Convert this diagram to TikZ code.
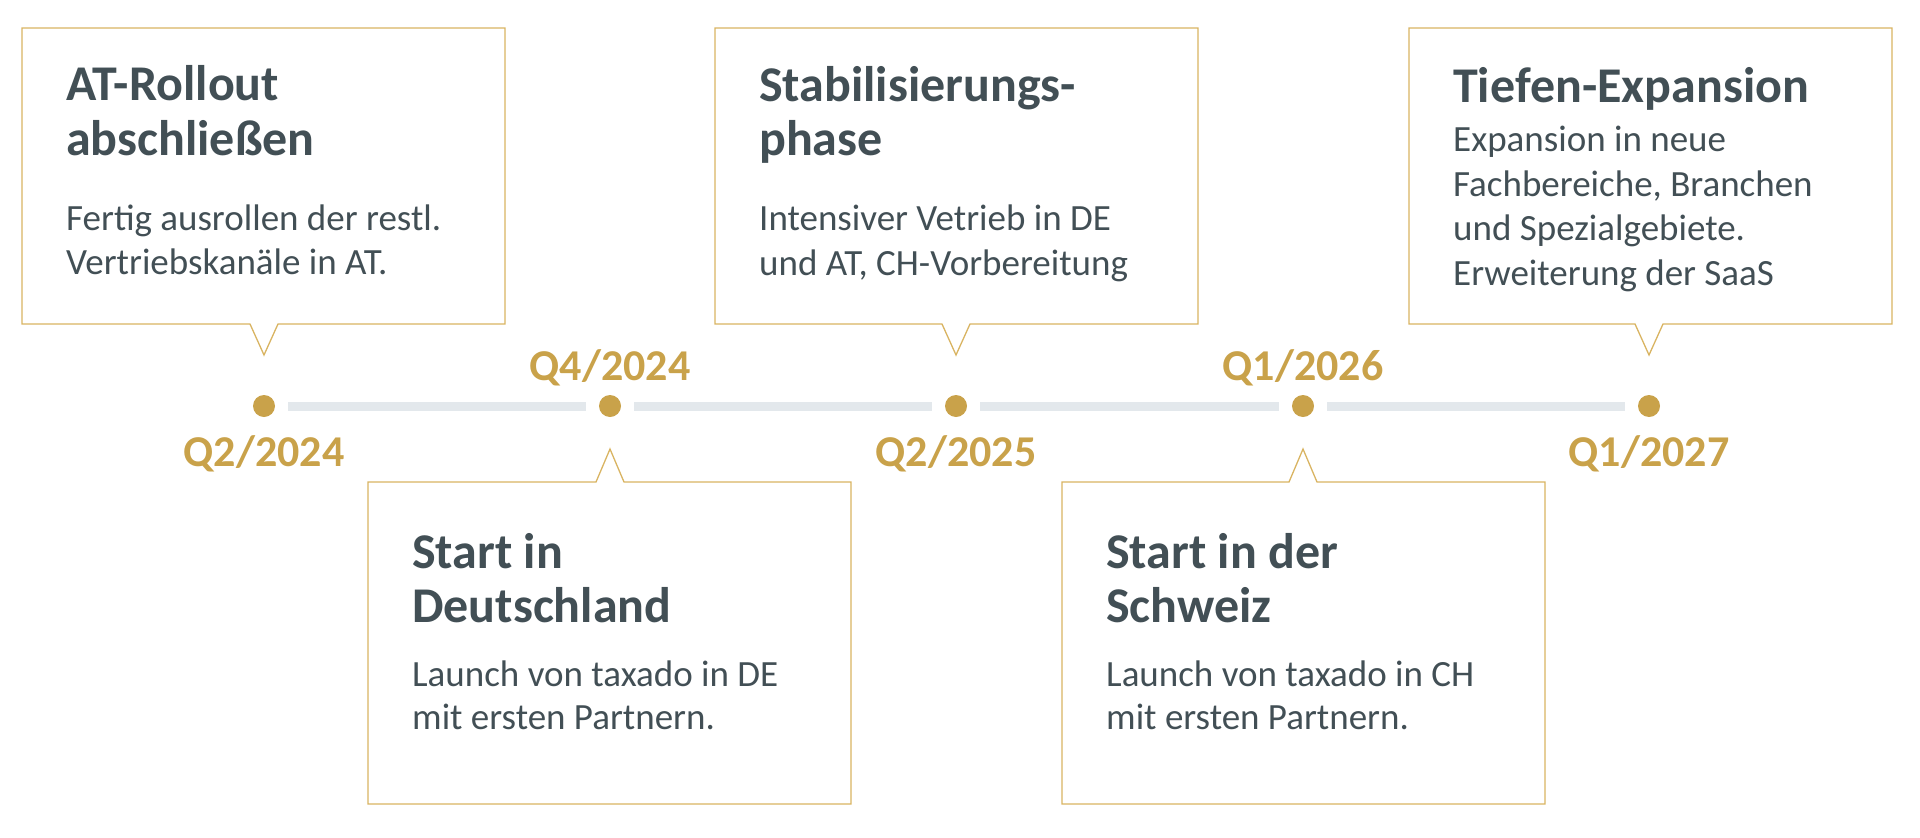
\documentclass[tikz,border=0pt]{standalone}
\usepackage{fontspec}
\setmainfont{Carlito}
\definecolor{ink}{HTML}{424F55}
\definecolor{gold}{HTML}{C9A24A}
\definecolor{frame}{HTML}{D9B462}
\definecolor{track}{HTML}{E3E8EC}
\begin{document}
\begin{tikzpicture}[x=1pt,y=-1pt,
  box/.style={draw=frame,line width=1.3pt,fill=white,line join=miter},
  dot/.style={circle,fill=gold,inner sep=0,minimum size=22pt},
  track/.style={draw=track,line width=9pt},
  qlab/.style={text=gold,font=\fontsize{44}{44}\selectfont\bfseries,inner sep=0,anchor=base},
  ttl/.style={text=ink,font=\fontsize{50}{50}\selectfont\bfseries,inner sep=0,anchor=base west},
  bdy/.style={text=ink,font=\fontsize{37}{37}\selectfont,inner sep=0,anchor=base west}]
\useasboundingbox (0,0) rectangle (1920,838);
% dots
\node[dot] (d1) at (264,406) {};
\node[dot] (d2) at (610,406) {};
\node[dot] (d3) at (956,406) {};
\node[dot] (d4) at (1303,406) {};
\node[dot] (d5) at (1649,406) {};
\draw[track] ([xshift=13pt]d1.east) -- ([xshift=-13pt]d2.west);
\draw[track] ([xshift=13pt]d2.east) -- ([xshift=-13pt]d3.west);
\draw[track] ([xshift=13pt]d3.east) -- ([xshift=-13pt]d4.west);
\draw[track] ([xshift=13pt]d4.east) -- ([xshift=-13pt]d5.west);
% labels
\node[qlab] (q1) at (264,466) {Q2/2024};
\node[qlab] (q2) at (610,380) {Q4/2024};
\node[qlab] (q3) at (956,466) {Q2/2025};
\node[qlab] (q4) at (1303,380) {Q1/2026};
\node[qlab] (q5) at (1649,466) {Q1/2027};
% upper boxes
\foreach \c/\l in {264/22,956/715,1649/1409}{
  \draw[box] (\l,28) -- (\l+483,28) -- (\l+483,324) -- (\c+14,324) -- (\c,355) -- (\c-14,324) -- (\l,324) -- cycle;}
% lower boxes
\foreach \c/\l in {610/368,1303/1062}{
  \draw[box] (\l,482) -- (\c-14,482) -- (\c,449) -- (\c+14,482) -- (\l+483,482) -- (\l+483,804) -- (\l,804) -- cycle;}
% box 1
\node[ttl] (t1a) at (66,100) {AT-Rollout};
\node[ttl] (t1b) at (66,155) {abschließen};
\node[bdy] (b1a) at (66,230) {Fertig ausrollen der restl.};
\node[bdy] (b1b) at (66,274) {Vertriebskanäle in AT.};
% box 2
\node[ttl] (t2a) at (412,568) {Start in};
\node[ttl] (t2b) at (412,622) {Deutschland};
\node[bdy] (b2a) at (412,686) {Launch von taxado in DE};
\node[bdy] (b2b) at (412,729) {mit ersten Partnern.};
% box 3
\node[ttl] (t3a) at (759,101) {Stabilisierungs-};
\node[ttl] (t3b) at (759,155) {phase};
\node[bdy] (b3a) at (759,230) {Intensiver Vetrieb in DE};
\node[bdy] (b3b) at (759,275) {und AT, CH-Vorbereitung};
% box 4
\node[ttl] (t4a) at (1106,568) {Start in der};
\node[ttl] (t4b) at (1106,622) {Schweiz};
\node[bdy] (b4a) at (1106,686) {Launch von taxado in CH};
\node[bdy] (b4b) at (1106,729) {mit ersten Partnern.};
% box 5
\node[ttl] (t5a) at (1453,102) {Tiefen-Expansion};
\node[bdy] (b5a) at (1453,151) {Expansion in neue};
\node[bdy] (b5b) at (1453,196) {Fachbereiche, Branchen};
\node[bdy] (b5c) at (1453,240) {und Spezialgebiete.};
\node[bdy] (b5d) at (1453,285) {Erweiterung der SaaS};
\end{tikzpicture}
\end{document}
